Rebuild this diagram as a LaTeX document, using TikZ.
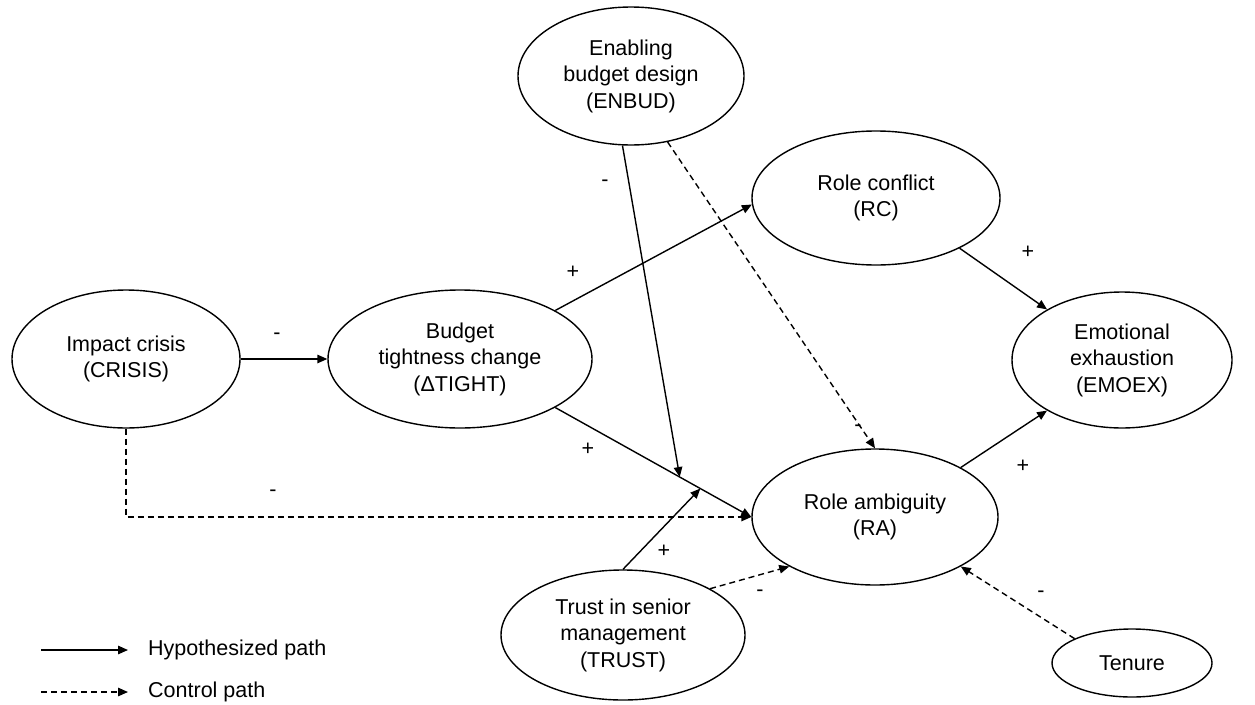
\documentclass[tikz,border=0pt]{standalone}
\usepackage{fontspec}
\setmainfont{Liberation Sans}
\usetikzlibrary{shapes.geometric, arrows.meta}
\tikzset{
    ovalnode/.style={
        ellipse,
        draw=black, % 椭圆边框
        line width=1.4pt,
        inner sep=0,
        align=center,
        font=\fontsize{21.5}{26.5}\selectfont
    },
    hyppath/.style={
        line width=1.4pt,
        -{Triangle[length=10pt,width=8.5pt]}
    },
    ctrlpath/.style={
        hyppath,
        dash pattern=on 6pt off 4pt % 虚线
    },
    signlabel/.style={
        inner sep=0,
        font=\fontsize{21.5}{26.5}\selectfont
    }
}

\begin{document}
\begin{tikzpicture}[x=1pt, y=-1pt]
    \useasboundingbox (0,0) rectangle (1255,704);
    % 潜变量
    \node[ovalnode, minimum width=228pt, minimum height=138pt] (crisis) at (126,359) {Impact crisis\\(CRISIS)};
    \node[ovalnode, minimum width=264pt, minimum height=138pt] (tight) at (460,359) {Budget\\tightness change\\(ΔTIGHT)};
    \node[ovalnode, minimum width=226pt, minimum height=138pt] (enbud) at (631,76) {Enabling\\budget design\\(ENBUD)};
    \node[ovalnode, minimum width=248pt, minimum height=134pt] (rc) at (876,198) {Role conflict\\(RC)};
    \node[ovalnode, minimum width=246pt, minimum height=136pt] (ra) at (875,517) {Role ambiguity\\(RA)};
    \node[ovalnode, minimum width=220pt, minimum height=136pt] (emoex) at (1122,360) {Emotional\\exhaustion\\(EMOEX)};
    \node[ovalnode, minimum width=244pt, minimum height=130pt] (trust) at (623,635) {Trust in senior\\management\\(TRUST)};
    \node[ovalnode, minimum width=160pt, minimum height=68pt] (tenure) at (1132,663) {Tenure};

    % 假设路径
    \draw[hyppath] (crisis.east) -- (tight.west);
    \draw[hyppath] (tight.27) -- (rc.183);
    \draw[hyppath] (tight.-27) -- (ra.west)
        coordinate[pos=0.635] (mod1)
        coordinate[pos=0.74] (mod2);
    \draw[hyppath] (enbud.-97) -- (mod1);
    \draw[hyppath] (trust.north) -- (mod2);
    \draw[hyppath] (rc.-31) -- (emoex.146);
    \draw[hyppath] (ra.30) -- (emoex.214);

    % 控制路径
    \draw[ctrlpath] (crisis.south) |- (ra.west);
    \draw[ctrlpath] (enbud.-61) -- (ra.north);
    \draw[ctrlpath] (trust.28) -- (ra.210);
    \draw[ctrlpath] (tenure.157) -- (ra.-30);

    % 符号
    \node[signlabel] (s1) at (277,336) {-};
    \node[signlabel] (s2) at (573,272) {+};
    \node[signlabel] (s3) at (588,449) {+};
    \node[signlabel] (s4) at (605,183) {-};
    \node[signlabel] (s5) at (858,428) {-};
    \node[signlabel] (s6) at (1028,252) {+};
    \node[signlabel] (s7) at (1023,466) {+};
    \node[signlabel] (s8) at (273,493) {-};
    \node[signlabel] (s9) at (664,551) {+};
    \node[signlabel] (s10) at (760,593) {-};
    \node[signlabel] (s11) at (1041,594) {-};

    % 图例
    \coordinate (leg1a) at (41,650);
    \coordinate (leg1b) at (128,650);
    \coordinate (leg2a) at (41,692);
    \coordinate (leg2b) at (128,692);
    \draw[hyppath] (leg1a) -- (leg1b);
    \draw[ctrlpath] (leg2a) -- (leg2b);
    \node[signlabel, anchor=west] (leg1) at (148,650) {Hypothesized path};
    \node[signlabel, anchor=west] (leg2) at (148,692) {Control path};
\end{tikzpicture}
\end{document}
